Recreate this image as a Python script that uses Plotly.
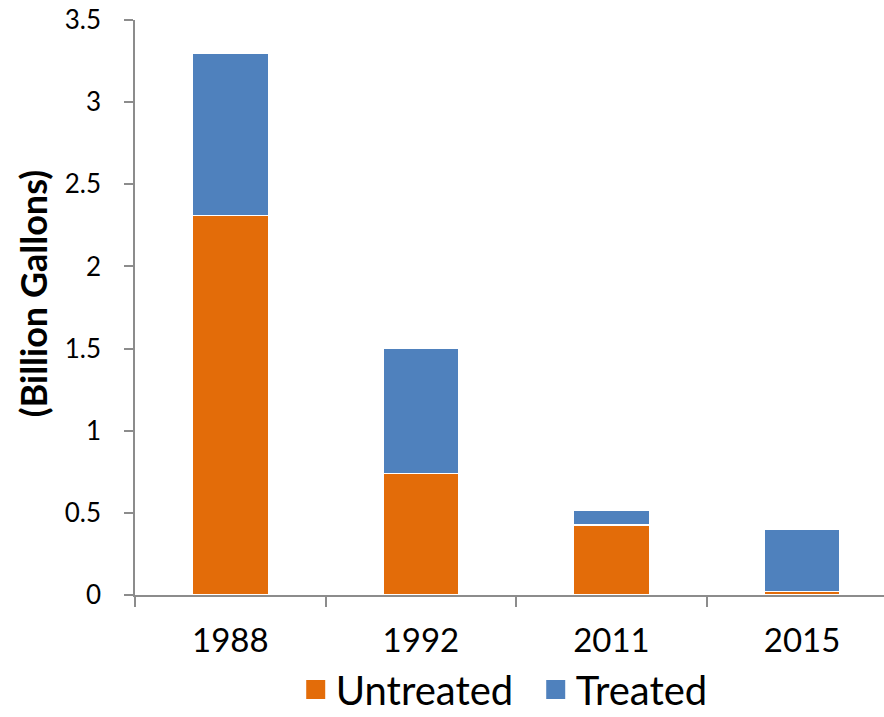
import plotly.graph_objects as go

years = ["1988", "1992", "2011", "2015"]
untreated = [2.31, 0.74, 0.425, 0.02]
treated = [0.99, 0.76, 0.09, 0.38]
y_ticks = [0, 0.5, 1, 1.5, 2, 2.5, 3, 3.5]
y_tick_labels = ["0", "0.5", "1", "1.5", "2", "2.5", "3", "3.5"]
series_names = ["Untreated", "Treated"]
series_colors = ["#E36C09", "#4F81BD"]

FONT = "Lato, Carlito, 'Open Sans', sans-serif"
AXIS_GRAY = "#8c8c8c"

fig = go.Figure()
for name, vals, col in zip(series_names, [untreated, treated], series_colors):
    fig.add_trace(go.Bar(x=years, y=vals, name=name, showlegend=False,
                         marker=dict(color=col, line=dict(color="white", width=1.5))))
# legend entries with large square swatches
for name, col in zip(series_names, series_colors):
    fig.add_trace(go.Scatter(x=[None], y=[None], mode="markers", name=name,
                             marker=dict(symbol="square", size=18, color=col,
                                         line=dict(color=col, width=3))))

fig.update_layout(
    barmode="stack",
    bargap=0.6,
    width=884, height=717,
    margin=dict(l=135, r=0, t=20, b=122, autoexpand=False),
    paper_bgcolor="white", plot_bgcolor="white",
    font=dict(family=FONT, color="black"),
    showlegend=True,
    legend=dict(orientation="h", x=0.535, xanchor="center", y=-0.2209, yanchor="bottom",
                font=dict(size=40, family=FONT), traceorder="normal",
                itemwidth=30, entrywidth=195, entrywidthmode="pixels"),
    xaxis=dict(
        type="category",
        range=[-0.5, 3.43],
        showline=True, linecolor=AXIS_GRAY, linewidth=1.5,
        ticks="outside", tickson="boundaries", ticklen=10, tickcolor=AXIS_GRAY, tickwidth=1.5,
        tickfont=dict(size=33, family=FONT),
        ticklabelstandoff=16,
        showgrid=False, zeroline=False,
    ),
    yaxis=dict(
        range=[0, 3.5],
        tickvals=y_ticks, ticktext=y_tick_labels,
        showline=True, linecolor=AXIS_GRAY, linewidth=1.5,
        ticks="outside", ticklen=9, tickcolor=AXIS_GRAY, tickwidth=1.5,
        tickfont=dict(size=26, family=FONT),
        ticklabelstandoff=18,
        showgrid=False, zeroline=False,
    ),
    annotations=[dict(text="<b>(Billion Gallons)</b>", xref="paper", yref="paper",
                      x=(33 - 135) / 749, y=0.523, xanchor="center", yanchor="middle",
                      textangle=-90, showarrow=False,
                      font=dict(size=36, family=FONT, color="black"))],
)

fig.write_html("out.html", config={"displayModeBar": False},
               post_script="document.body.style.margin='0';")
